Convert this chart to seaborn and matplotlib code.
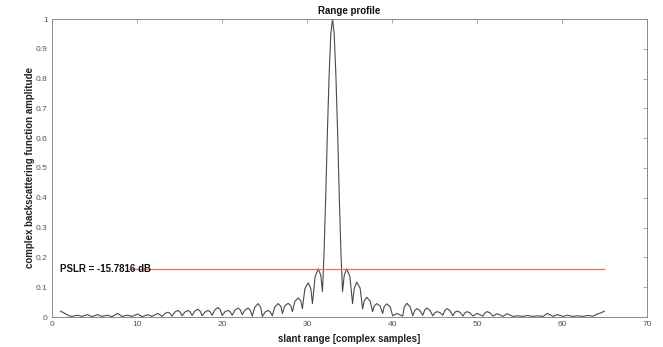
import matplotlib
matplotlib.use("Agg")
import matplotlib.pyplot as plt
import numpy as np
import pandas as pd
import seaborn as sns

# Range profile: slant-range position (complex samples) and normalised amplitude
profile_x = [
    1.00, 1.50, 2.00, 2.32,
    3.01, 3.50, 4.19, 4.68, 5.37, 5.86, 6.55, 7.04, 7.73, 8.22, 8.91, 9.40,
    10.09, 10.58, 11.27, 11.76, 12.45, 12.94,
    13.29, 13.63, 13.88, 14.12, 14.47, 14.81, 15.06, 15.30,
    15.65, 15.99, 16.24, 16.48, 16.83, 17.17, 17.42, 17.66,
    18.01, 18.35, 18.60, 18.84, 19.19, 19.53, 19.78, 20.02,
    20.37, 20.71, 20.96, 21.20, 21.55, 21.89, 22.14, 22.38,
    22.73, 23.07, 23.32, 23.56, 23.86, 24.25, 24.56, 24.74,
    25.09, 25.43, 25.68, 25.92,
    26.22, 26.61, 26.92, 27.10, 27.40, 27.79, 28.10, 28.28, 28.57, 28.97,
    29.27, 29.46, 29.75, 30.15, 30.45, 30.64, 30.95, 31.33, 31.62, 31.82,
    32.00, 32.20, 32.40, 32.60, 32.80, 33.00, 33.20, 33.40, 33.60, 33.80, 34.00,
    34.18, 34.38, 34.67, 35.05, 35.36, 35.55, 35.85, 36.25, 36.54, 36.73,
    37.03, 37.43, 37.72, 37.90, 38.21, 38.60, 38.90, 39.08, 39.39, 39.78,
    40.08, 40.57, 41.26, 41.44, 41.75, 42.14, 42.44,
    42.68, 42.93, 43.27, 43.62, 43.86, 44.11, 44.45, 44.80,
    45.04, 45.29, 45.63, 45.98, 46.22, 46.47, 46.81, 47.16,
    47.40, 47.65, 47.99, 48.34, 48.58, 48.83, 49.17, 49.52, 50.01,
    50.70, 50.94, 51.19, 51.53, 51.88, 52.37, 53.06, 53.55, 54.24, 54.73, 55.42, 55.91,
    56.60, 57.09, 57.78, 58.27, 58.96, 59.45, 60.14, 60.63, 61.32, 61.81,
    62.50, 62.99, 63.68, 64.17, 64.60, 65.00,
]
profile_y = [
    0.020, 0.012, 0.004, 0.002,
    0.006, 0.002, 0.008, 0.001, 0.008, 0.002, 0.006, 0.001, 0.012, 0.002, 0.006, 0.002,
    0.010, 0.001, 0.008, 0.002, 0.012, 0.002,
    0.012, 0.016, 0.012, 0.003, 0.017, 0.022, 0.017, 0.004,
    0.017, 0.022, 0.018, 0.005, 0.021, 0.026, 0.020, 0.004,
    0.017, 0.022, 0.018, 0.006, 0.025, 0.032, 0.025, 0.005,
    0.018, 0.022, 0.018, 0.006, 0.024, 0.030, 0.024, 0.008,
    0.024, 0.030, 0.023, 0.003, 0.033, 0.045, 0.032, 0.002,
    0.017, 0.022, 0.017, 0.004,
    0.034, 0.045, 0.036, 0.012, 0.038, 0.046, 0.038, 0.018, 0.052, 0.064,
    0.054, 0.028, 0.095, 0.115, 0.095, 0.045, 0.135, 0.162, 0.140, 0.085,
    0.21, 0.40, 0.62, 0.81, 0.95, 1.00, 0.95, 0.81, 0.62, 0.40, 0.21,
    0.085, 0.140, 0.162, 0.135, 0.045, 0.095, 0.117, 0.097, 0.027, 0.054,
    0.066, 0.053, 0.018, 0.037, 0.045, 0.037, 0.012, 0.035, 0.044, 0.034,
    0.004, 0.012, 0.003, 0.033, 0.046, 0.034, 0.004,
    0.022, 0.028, 0.022, 0.006, 0.024, 0.030, 0.023, 0.004,
    0.014, 0.018, 0.015, 0.006, 0.022, 0.028, 0.022, 0.004,
    0.016, 0.020, 0.016, 0.003, 0.014, 0.018, 0.014, 0.003, 0.012,
    0.003, 0.014, 0.018, 0.014, 0.003, 0.011, 0.002, 0.011, 0.002, 0.004, 0.002, 0.005,
    0.002, 0.004, 0.002, 0.012, 0.002, 0.008, 0.002, 0.006, 0.002, 0.004,
    0.002, 0.005, 0.003, 0.010, 0.014, 0.020,
]

# Peak sidelobe ratio and the span of its reference line
pslr_db = -15.7816
pslr_span = [9.0, 65.0]

x_ticks = [0, 10, 20, 30, 40, 50, 60, 70]
x_tick_labels = ["0", "10", "20", "30", "40", "50", "60", "70"]
y_ticks = [0, 0.1, 0.2, 0.3, 0.4, 0.5, 0.6, 0.7, 0.8, 0.9, 1.0]
y_tick_labels = ["0", "0.1", "0.2", "0.3", "0.4", "0.5", "0.6", "0.7", "0.8", "0.9", "1"]

title = "Range profile"
x_label = "slant range [complex samples]"
y_label = "complex backscattering function amplitude"

sns.set_style("white")
plt.rcParams["font.family"] = ["Liberation Sans", "DejaVu Sans"]

fig = plt.figure(figsize=(6.63, 3.47), dpi=100)
ax = fig.add_axes([52 / 663, 30 / 347, 595 / 663, 298 / 347])

df = pd.DataFrame({"x": profile_x, "y": profile_y})
sns.lineplot(data=df, x="x", y="y", ax=ax, color="#4a4a4a", linewidth=0.8,
             sort=False, estimator=None)

pslr_level = 10 ** (pslr_db / 20)
ax.hlines(pslr_level, pslr_span[0], pslr_span[1], color="#e87070", linewidth=0.9, zorder=3)
ax.text(1.0, pslr_level, f"PSLR = {pslr_db} dB", fontsize=7, fontweight="bold",
        ha="left", va="center", color="#111111", zorder=4)

ax.set_xlim(0, 70)
ax.set_ylim(0, 1)
ax.set_xticks(x_ticks)
ax.set_xticklabels(x_tick_labels)
ax.set_yticks(y_ticks)
ax.set_yticklabels(y_tick_labels)
ax.tick_params(direction="in", top=True, right=True, length=3, width=0.5,
               color="#8a8a8a", labelsize=6, labelcolor="#555555", pad=3)

for side in ["left", "right", "top", "bottom"]:
    ax.spines[side].set_visible(True)
    ax.spines[side].set_color("#8a8a8a")
    ax.spines[side].set_linewidth(0.7)

ax.set_title(title, fontsize=7, fontweight="bold", pad=3.5, color="#111111")
ax.set_xlabel(x_label, fontsize=7, fontweight="bold", color="#222222")
ax.set_ylabel(y_label, fontsize=7, fontweight="bold", color="#222222")
ax.xaxis.label.set_va("center")
ax.yaxis.label.set_va("center")
ax.xaxis.set_label_coords(0.5, -22 / 298)
ax.yaxis.set_label_coords(-21.5 / 595, 0.5)

fig.savefig("out.png", dpi=100)
